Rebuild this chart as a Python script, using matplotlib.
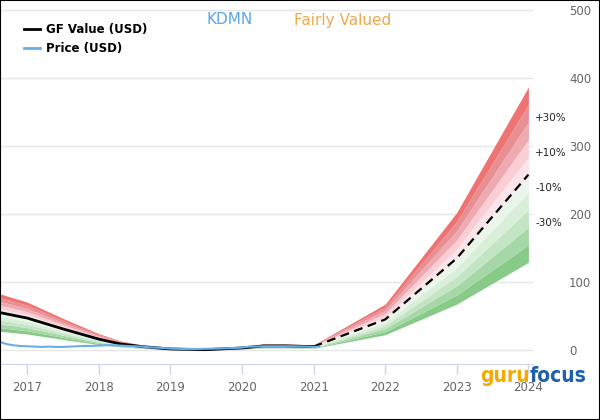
import matplotlib
matplotlib.use("Agg")
import matplotlib.pyplot as plt
from matplotlib.lines import Line2D
from matplotlib.patches import Rectangle
import numpy as np

# ---- data ----
hist_x = [2016.62, 2017.0, 2017.5, 2018.0, 2018.3, 2018.6, 2019.0, 2019.5, 2020.0, 2020.3, 2020.6, 2021.0]
hist_v = [55, 47, 31, 16, 9, 5, 1.5, 0.5, 3, 6, 6, 5]
fut_x = [2021.0, 2022.0, 2023.0, 2024.0]
fut_v = [5, 45, 135, 258]
price_x = [2016.62, 2016.7, 2016.8, 2016.9, 2017.0, 2017.1, 2017.2, 2017.3, 2017.4, 2017.5,
           2017.6, 2017.7, 2017.8, 2017.9, 2018.0, 2018.1, 2018.2, 2018.3, 2018.4, 2018.5,
           2018.6, 2018.7, 2018.8, 2018.9, 2019.0, 2019.2, 2019.4, 2019.6, 2019.8, 2020.0,
           2020.1, 2020.2, 2020.3, 2020.5, 2020.7, 2020.9, 2021.0, 2021.08]
price_v = [12, 9, 7, 6, 5.5, 5, 4.5, 5, 4.5, 4.5,
           5, 5.5, 6, 6, 6.5, 7, 7, 6.5, 6, 5.5,
           5, 4, 3.5, 3, 2, 1.5, 1.5, 2, 2.5, 3.5,
           5, 5, 5.5, 5.5, 5.5, 5, 4.5, 5]
mults = [0.5, 0.6, 0.7, 0.8, 0.9, 1.0, 1.1, 1.2, 1.3, 1.4, 1.5]
band_colors = ["#88ca88", "#a6d7a6", "#c3e5c3", "#d9efd9", "#ebf6eb",
               "#fde4e8", "#f9cfd5", "#eeaab0", "#e88f93", "#f07373"]
pct_labels = ["+30%", "+10%", "-10%", "-30%"]
pct_pos = [341, 290, 238, 187]
years = [2017, 2018, 2019, 2020, 2021, 2022, 2023, 2024]
yticks = [0, 100, 200, 300, 400, 500]

fig = plt.figure(figsize=(6, 4.2), dpi=100)
ax = fig.add_axes([0.0, 56 / 420, 533 / 600, 364 / 420])
ax.set_xlim(2016.62, 2016.62 + 533 / 71.6)
ax.set_ylim(-20.6, 515)

for xs, vs in [(hist_x, hist_v), (fut_x, fut_v)]:
    v = np.array(vs, dtype=float)
    for i in range(len(mults) - 1):
        ax.fill_between(xs, v * mults[i], v * mults[i + 1], color=band_colors[i],
                        linewidth=0, zorder=2)

ax.plot(hist_x, hist_v, color="black", lw=2, zorder=4)
ax.plot(fut_x, fut_v, color="black", lw=1.6, ls=(0, (4, 2.5)), zorder=4)
ax.plot(price_x, price_v, color="#6aaee8", lw=1.5, zorder=5)

for t in yticks:
    ax.axhline(t, color="#e6e6e6", lw=1, zorder=1)

ax.yaxis.tick_right()
ax.set_yticks(yticks)
ax.set_yticklabels([str(t) for t in yticks])
ax.tick_params(axis="y", length=0, pad=26, labelsize=8.5, labelcolor="#666666")
for lab in ax.get_yticklabels():
    lab.set_horizontalalignment("left")
ax.set_xticks(years)
ax.set_xticklabels([str(y) for y in years])
ax.tick_params(axis="x", length=7, width=1, color="#ccd6eb", labelsize=8.5,
               labelcolor="#666666", pad=5)
for s in ["top", "right", "left"]:
    ax.spines[s].set_visible(False)
ax.spines["bottom"].set_color("#ccd6eb")
ax.set_facecolor("white")

for lab, yv in zip(pct_labels, pct_pos):
    ax.text(2016.62 + 535 / 71.6, yv, lab, fontsize=7.5, color="#222222",
            va="center", ha="left", clip_on=False)

handles = [Line2D([], [], color="black", lw=2), Line2D([], [], color="#6aaee8", lw=2)]
ax.legend(handles, ["GF Value (USD)", "Price (USD)"], loc="upper left",
          bbox_to_anchor=(0.025, 0.965), frameon=False, handlelength=1.4,
          handletextpad=0.5, labelspacing=0.45, prop={"weight": "bold", "size": 8.5})

fig.text(230 / 600, 1 - 20 / 420, "KDMN", color="#5aa7f0", fontsize=11,
         ha="center", va="center")
fig.text(343 / 600, 1 - 21 / 420, "Fairly Valued", color="#f0a848", fontsize=11,
         ha="center", va="center")
fig.text(530 / 600, 1 - 376 / 420, "guru", color="#f5a800", fontsize=15,
         fontweight="bold", family="DejaVu Sans", fontstretch="condensed",
         ha="right", va="center")
fig.text(530 / 600, 1 - 376 / 420, "focus", color="#1f5fae", fontsize=15,
         fontweight="bold", family="DejaVu Sans", fontstretch="condensed",
         ha="left", va="center")

fig.patches.append(Rectangle((0, 0), 1, 1, transform=fig.transFigure, fill=False,
                             edgecolor="black", lw=1.5))
fig.savefig("out.png", dpi=100)
